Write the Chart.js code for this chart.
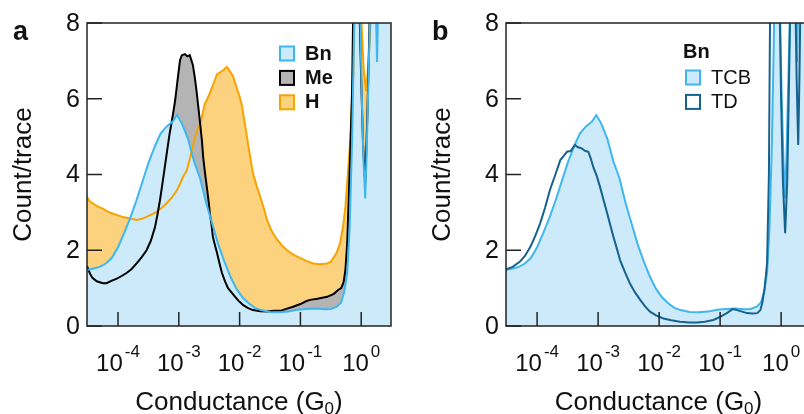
<!DOCTYPE html>
<html lang="en">
<head>
<meta charset="UTF-8">
<title>Conductance histograms</title>
<script src="https://cdn.jsdelivr.net/npm/chart.js@4.4.0/dist/chart.umd.min.js"></script>
<style>
  body { margin: 0; background: #fff; overflow: hidden; }
  #wrap { position: relative; width: 804px; height: 414px; overflow: hidden; }
  #panelA { position: absolute; left: 0; top: 0; }
  #panelB { position: absolute; left: 402px; top: 0; }
</style>
</head>
<body>
<div id="wrap">
  <canvas id="panelA" width="402" height="414"></canvas>
  <canvas id="panelB" width="420" height="414"></canvas>
</div>
<script>
// axis ticks
const xTickExponents = [-4, -3, -2, -1, 0];
const yTicks = [0, 2, 4, 6, 8];

// log10(G/G0) and counts per trace for each histogram
const bnLogG = [-4.51,-4.40,-4.30,-4.20,-4.10,-4.00,-3.90,-3.80,-3.70,-3.60,-3.50,-3.40,-3.30,-3.20,-3.10,-3.03,-2.95,-2.85,-2.75,-2.65,-2.55,-2.45,-2.35,-2.25,-2.15,-2.05,-1.95,-1.85,-1.75,-1.65,-1.50,-1.35,-1.20,-1.05,-0.90,-0.75,-0.60,-0.50,-0.40,-0.33,-0.28,-0.23,-0.19,-0.15,-0.12,-0.09,-0.06,-0.04,-0.02,0.01,0.04,0.066,0.09,0.12,0.15,0.18,0.21,0.24,0.26,0.28,0.31,0.49];
const bnCount = [1.48,1.52,1.56,1.65,1.80,2.08,2.45,2.85,3.30,3.80,4.30,4.72,5.08,5.27,5.40,5.57,5.35,4.95,4.35,3.90,3.25,2.70,2.15,1.70,1.30,0.98,0.75,0.60,0.48,0.42,0.37,0.36,0.38,0.43,0.45,0.46,0.44,0.45,0.51,0.62,0.90,1.40,2.60,4.90,7.50,11,16,12,8.5,6,4.3,3.37,4.6,6.6,8.5,12,12,8.5,6.97,8.5,12,12];

const meLogG = [-4.51,-4.46,-4.42,-4.35,-4.25,-4.19,-4.10,-4.02,-3.94,-3.86,-3.78,-3.69,-3.61,-3.53,-3.46,-3.39,-3.35,-3.31,-3.27,-3.23,-3.19,-3.15,-3.10,-3.06,-3.02,-2.98,-2.95,-2.90,-2.86,-2.82,-2.79,-2.77,-2.74,-2.71,-2.68,-2.65,-2.62,-2.60,-2.57,-2.54,-2.51,-2.49,-2.46,-2.44,-2.40,-2.37,-2.33,-2.29,-2.24,-2.19,-2.14,-2.09,-2.02,-1.94,-1.86,-1.78,-1.66,-1.55,-1.44,-1.33,-1.22,-1.12,-1.00,-0.90,-0.84,-0.72,-0.62,-0.56,-0.45,-0.38,-0.33,-0.29,-0.26,-0.23,-0.21,-0.18,-0.15,-0.13,-0.10,-0.06,-0.03,0.00,0.03,0.066,0.10,0.13,0.16,0.20];
const meCount = [1.58,1.38,1.27,1.18,1.13,1.13,1.20,1.25,1.32,1.40,1.50,1.66,1.82,2.00,2.25,2.62,2.95,3.32,3.75,4.20,4.65,5.09,5.55,5.96,6.50,7.02,7.15,7.18,7.12,7.15,7.00,6.90,6.60,6.23,5.80,5.35,4.90,4.47,4.05,3.68,3.30,2.98,2.65,2.36,2.10,1.92,1.65,1.40,1.18,1.00,0.90,0.80,0.67,0.55,0.47,0.42,0.39,0.38,0.40,0.40,0.46,0.51,0.58,0.66,0.69,0.72,0.75,0.77,0.85,0.95,1.00,1.15,1.48,2.20,3.15,4.60,6.23,8.50,12,14,8.5,6.5,4.8,3.77,5.5,7.5,10,18];

const hLogG = [-4.51,-4.47,-4.42,-4.33,-4.25,-4.17,-4.09,-4.00,-3.92,-3.80,-3.69,-3.61,-3.53,-3.45,-3.36,-3.28,-3.20,-3.11,-3.03,-2.98,-2.93,-2.87,-2.82,-2.77,-2.73,-2.69,-2.65,-2.61,-2.57,-2.53,-2.49,-2.43,-2.37,-2.32,-2.27,-2.24,-2.21,-2.17,-2.11,-2.07,-2.03,-1.99,-1.96,-1.92,-1.88,-1.83,-1.78,-1.72,-1.66,-1.60,-1.55,-1.47,-1.38,-1.30,-1.22,-1.11,-1.00,-0.90,-0.79,-0.68,-0.56,-0.50,-0.46,-0.40,-0.35,-0.30,-0.26,-0.22,-0.18,-0.13,-0.11,-0.07,-0.03,0.00,0.04,0.08,0.12,0.16,0.20];
const hCount = [3.41,3.30,3.24,3.15,3.10,3.02,2.97,2.92,2.88,2.84,2.80,2.83,2.88,2.94,3.02,3.12,3.24,3.40,3.59,3.75,3.94,4.10,4.40,4.75,5.00,5.20,5.35,5.60,5.88,6.00,6.15,6.40,6.65,6.70,6.75,6.80,6.84,6.75,6.60,6.40,6.20,6.00,5.80,5.40,5.00,4.50,4.03,3.70,3.41,3.10,2.80,2.50,2.27,2.12,2.00,1.88,1.79,1.72,1.65,1.63,1.65,1.70,1.79,1.95,2.18,2.60,3.15,4.00,4.90,6.67,8.50,12,12,8.2,6.8,6.2,6.9,8.3,14];

// Bn measured in TD (TCB reuses the Bn arrays)
const tdLogG = [-4.51,-4.40,-4.28,-4.20,-4.11,-4.03,-3.95,-3.87,-3.79,-3.70,-3.62,-3.56,-3.51,-3.45,-3.38,-3.33,-3.27,-3.21,-3.16,-3.12,-3.08,-3.02,-2.97,-2.91,-2.85,-2.80,-2.75,-2.69,-2.64,-2.56,-2.48,-2.40,-2.31,-2.23,-2.15,-2.05,-1.93,-1.80,-1.66,-1.50,-1.38,-1.25,-1.11,-1.00,-0.89,-0.82,-0.79,-0.72,-0.64,-0.56,-0.47,-0.39,-0.34,-0.31,-0.27,-0.23,-0.20,-0.18,-0.14,-0.08,-0.04,0.00,0.03,0.066,0.10,0.13,0.15,0.19,0.23,0.255,0.28,0.30,0.32,0.36,0.49];
const tdCount = [1.50,1.56,1.70,1.85,2.09,2.38,2.71,3.12,3.59,4.00,4.38,4.50,4.60,4.62,4.78,4.72,4.69,4.62,4.60,4.42,4.20,3.95,3.68,3.32,2.97,2.66,2.36,2.03,1.74,1.42,1.13,0.90,0.69,0.52,0.38,0.28,0.20,0.15,0.11,0.09,0.09,0.11,0.16,0.24,0.34,0.42,0.45,0.42,0.38,0.34,0.33,0.34,0.42,0.60,1.00,1.66,4.00,8.50,14,18,10,6,3.8,2.45,3.8,6.5,8.5,12,9,6.5,4.78,6.5,9,14,14];

const FONT = '"Liberation Sans", Arial, Helvetica, sans-serif';
const BLUE = '#3fb6ee', BLUE_FILL = '#cdeafa';
const GREY_FILL = '#b4b4b4';
const ORANGE = '#f7a300', ORANGE_FILL = '#fdd27f';
const DARK_BLUE = '#15628f';

function toPoints(logs, counts) {
  return logs.map((l, i) => ({ x: Math.pow(10, l), y: counts[i] }));
}

function series(label, logs, counts, color, fill) {
  return {
    label: label,
    data: toPoints(logs, counts),
    borderColor: color,
    backgroundColor: fill || 'transparent',
    fill: fill ? 'origin' : false,
    borderWidth: 2,
    pointRadius: 0,
    tension: 0
  };
}

// frame, inward ticks, labels and legend drawn on top of the plot
const decorations = {
  id: 'decorations',
  afterDraw(chart, args, opts) {
    const ctx = chart.ctx;
    const a = chart.chartArea;
    const x = chart.scales.x, y = chart.scales.y;
    ctx.save();
    ctx.strokeStyle = '#222';
    ctx.fillStyle = '#111';
    ctx.lineWidth = 1.5;
    ctx.strokeRect(a.left, a.top, a.right - a.left, a.bottom - a.top);

    // y ticks and labels
    ctx.font = '25px ' + FONT;
    ctx.textAlign = 'right';
    ctx.textBaseline = 'middle';
    yTicks.forEach(v => {
      const py = y.getPixelForValue(v);
      ctx.beginPath();
      ctx.moveTo(a.left, py);
      ctx.lineTo(a.left + 15, py);
      ctx.stroke();
      ctx.fillText(String(v), a.left - 7, py + 1);
    });

    // x ticks and 10^n labels
    ctx.textBaseline = 'alphabetic';
    ctx.textAlign = 'left';
    xTickExponents.forEach(e => {
      const px = x.getPixelForValue(Math.pow(10, e));
      ctx.beginPath();
      ctx.moveTo(px, a.bottom);
      ctx.lineTo(px, a.bottom - 14);
      ctx.stroke();
      ctx.font = '24px ' + FONT;
      const wb = ctx.measureText('10').width;
      ctx.font = '17px ' + FONT;
      const et = String(e);
      const we = ctx.measureText(et).width;
      const left = px - (wb + 2 + we) / 2;
      ctx.font = '24px ' + FONT;
      ctx.fillText('10', left, a.bottom + 45);
      ctx.font = '17px ' + FONT;
      ctx.fillText(et, left + wb + 2, a.bottom + 31);
    });

    // x title with subscript
    const cx = (a.left + a.right) / 2;
    ctx.font = '26px ' + FONT;
    const t1 = 'Conductance (G', t2 = ')';
    const w1 = ctx.measureText(t1).width, w2 = ctx.measureText(t2).width;
    ctx.font = '17px ' + FONT;
    const ws = ctx.measureText('0').width;
    let tx = cx - (w1 + ws + w2) / 2;
    const ty = a.bottom + 84;
    ctx.font = '26px ' + FONT;
    ctx.fillText(t1, tx, ty);
    ctx.font = '17px ' + FONT;
    ctx.fillText('0', tx + w1, ty + 4);
    ctx.font = '26px ' + FONT;
    ctx.fillText(t2, tx + w1 + ws, ty);

    // y title
    ctx.save();
    ctx.translate(a.left - 63, (a.top + a.bottom) / 2);
    ctx.rotate(-Math.PI / 2);
    ctx.textAlign = 'center';
    ctx.textBaseline = 'middle';
    ctx.font = '26px ' + FONT;
    ctx.fillText('Count/trace', 0, 0);
    ctx.restore();

    // panel letter
    ctx.font = 'bold 27px ' + FONT;
    ctx.textAlign = 'left';
    ctx.fillText(opts.letter, a.left - 74, a.top + 17);

    // legend
    const L = opts.legend;
    ctx.lineWidth = 2;
    ctx.textBaseline = 'middle';
    if (L.title) {
      ctx.font = 'bold 20px ' + FONT;
      ctx.fillStyle = '#111';
      ctx.fillText(L.title, a.left + L.dx - 3, a.top + 29);
    }
    L.items.forEach((it, i) => {
      const by = a.top + L.dy + i * 24.4;
      const bx = a.left + L.dx;
      ctx.fillStyle = it.fill;
      ctx.fillRect(bx, by - 6.5, 14, 14);
      ctx.strokeStyle = it.stroke;
      ctx.strokeRect(bx, by - 6.5, 14, 14);
      ctx.fillStyle = '#111';
      ctx.font = (L.bold ? 'bold ' : '') + '20px ' + FONT;
      ctx.fillText(it.label, bx + 25, by + 1);
    });
    ctx.restore();
  }
};

function makeChart(id, datasets, padding, letter, legend) {
  return new Chart(document.getElementById(id), {
    type: 'line',
    data: { datasets: datasets },
    options: {
      responsive: false,
      animation: false,
      devicePixelRatio: 1,
      events: [],
      layout: { padding: padding },
      scales: {
        x: { type: 'logarithmic', min: Math.pow(10, -4.51), max: Math.pow(10, 0.49), display: false },
        y: { type: 'linear', min: 0, max: 8, display: false }
      },
      plugins: {
        legend: { display: false },
        tooltip: { enabled: false },
        filler: { drawTime: 'beforeDatasetsDraw' },
        decorations: { letter: letter, legend: legend }
      }
    },
    plugins: [decorations]
  });
}

makeChart('panelA', [
  series('Bn', bnLogG, bnCount, BLUE, BLUE_FILL),
  series('Me', meLogG, meCount, '#000', GREY_FILL),
  series('H', hLogG, hCount, ORANGE, ORANGE_FILL)
], { left: 87, top: 23, right: 11, bottom: 88 }, 'a', {
  dx: 193, dy: 30, bold: true,
  items: [
    { label: 'Bn', fill: BLUE_FILL, stroke: BLUE },
    { label: 'Me', fill: GREY_FILL, stroke: '#000' },
    { label: 'H', fill: ORANGE_FILL, stroke: ORANGE }
  ]
});

makeChart('panelB', [
  series('TD', tdLogG, tdCount, DARK_BLUE, null),
  series('TCB', bnLogG, bnCount, BLUE, BLUE_FILL)
], { left: 104, top: 23, right: 11, bottom: 88 }, 'b', {
  title: 'Bn', dx: 180, dy: 54, bold: false,
  items: [
    { label: 'TCB', fill: BLUE_FILL, stroke: BLUE },
    { label: 'TD', fill: '#fff', stroke: DARK_BLUE }
  ]
});
</script>
</body>
</html>
